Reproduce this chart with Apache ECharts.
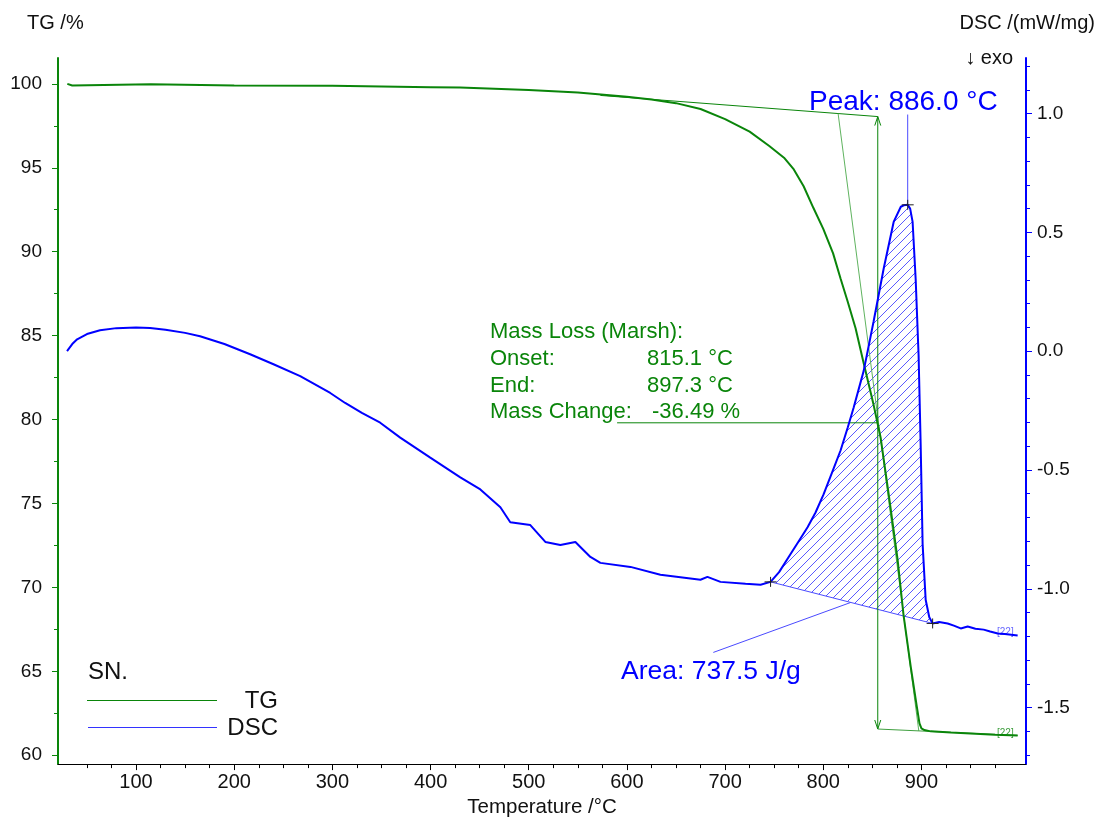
<!DOCTYPE html>
<html>
<head>
<meta charset="utf-8">
<title>TG / DSC</title>
<script src="https://cdn.jsdelivr.net/npm/echarts@6/dist/echarts.min.js"></script>
<style>
  html, body { margin: 0; padding: 0; background: #ffffff; }
  #chart { width: 1102px; height: 823px; }
</style>
</head>
<body>
<div id="chart"></div>
<script>
// ---- Measured curves ----
// TG: temperature (°C) and residual mass (%)
const tgTemp = [30, 32, 35, 37, 115, 117, 200, 300, 400, 430, 500, 550, 600, 625, 650, 675, 700, 725, 745, 760, 770, 780, 790, 800, 810, 817.6, 825, 832.9, 841, 851.2, 858.4, 866.6, 875.7, 881.9, 889, 895, 898, 900, 903, 909.4, 930, 950, 975, 998];
const tgMass = [100.0, 99.9, 99.9, 99.98, 99.98, 99.93, 99.9, 99.88, 99.8, 99.78, 99.64, 99.48, 99.23, 99.07, 98.85, 98.5, 97.9, 97.15, 96.3, 95.6, 94.9, 93.9, 92.6, 91.36, 89.9, 88.4, 87.0, 85.44, 83.4, 80.89, 78.93, 75.56, 71.66, 68.28, 65.3, 63.0, 61.9, 61.6, 61.5, 61.42, 61.35, 61.3, 61.22, 61.18];

// DSC: temperature (°C) and heat flow (mW/mg)
const dscTemp = [29.7, 35, 40, 50, 63.3, 80, 100, 114.3, 130, 150, 165.2, 190, 216.2, 240, 267.2, 297.8, 313, 330, 348.7, 369.1, 399.7, 430.3, 450.7, 471.1, 481.2, 501.6, 516.9, 532.2, 547.5, 562.8, 573, 603.6, 634.1, 674.9, 682, 695.3, 720.8, 736.1, 746.3, 755, 766.7, 775, 784, 792, 800.3, 810, 817.6, 825, 830.9, 841.1, 851.3, 861.5, 871.7, 879, 882, 886.0, 888.5, 891, 894.1, 897.1, 899.2, 901.2, 904.3, 908, 911.4, 918, 926.7, 933, 940, 947.1, 955, 963.4, 970, 977.7, 985, 998];
const dscFlow = [0.0, 0.03, 0.05, 0.072, 0.088, 0.097, 0.1, 0.098, 0.09, 0.077, 0.063, 0.03, -0.013, -0.055, -0.105, -0.176, -0.218, -0.26, -0.301, -0.364, -0.448, -0.531, -0.582, -0.657, -0.72, -0.732, -0.803, -0.816, -0.803, -0.866, -0.891, -0.908, -0.941, -0.962, -0.95, -0.971, -0.979, -0.983, -0.971, -0.93, -0.854, -0.8, -0.741, -0.68, -0.603, -0.5, -0.418, -0.32, -0.238, -0.084, 0.126, 0.347, 0.544, 0.608, 0.614, 0.616, 0.6, 0.544, 0.305, -0.017, -0.393, -0.812, -1.046, -1.12, -1.146, -1.14, -1.146, -1.155, -1.167, -1.159, -1.168, -1.172, -1.18, -1.188, -1.19, -1.197];

// ---- Evaluation results ----
const massOnset = 815.1;        // °C
const massEnd = 897.3;          // °C
const massChange = -36.49;      // %
const stepTemp = 855.5;         // °C, position of the step arrow
const stepTop = 98.05;          // %, upper level of the step
const upperBaseStart = 573;     // °C
const lowerBaseEnd = 998;       // °C
const lowerBaseEndMass = 61.18; // %
const upperBaseSlope = -0.00446; // %/°C
const midLineStart = 590;       // °C

const peakTemp = 886.0;         // °C
const peakFlow = 0.616;         // mW/mg
const areaStart = [746.3, -0.971];
const areaEnd = [911.4, -1.146];
const areaValue = 737.5;        // J/g
const areaLeaderStart = [688, -1.268];
const areaLeaderTo = 828;       // °C, ends on the peak baseline

// ---- Axis ticks ----
const tempMajor = [100, 200, 300, 400, 500, 600, 700, 800, 900];
const tempMinor = [50, 75, 125, 150, 175, 225, 250, 275, 325, 350, 375, 425, 450, 475, 525, 550, 575, 625, 650, 675, 725, 750, 775, 825, 850, 875, 925, 950, 975];
const tgMajor = [60, 65, 70, 75, 80, 85, 90, 95, 100];
const tgMinor = [62.5, 67.5, 72.5, 77.5, 82.5, 87.5, 92.5, 97.5];
const dscMajor = [-1.5, -1.0, -0.5, 0.0, 0.5, 1.0];
const dscMinor = [-1.7, -1.6, -1.4, -1.3, -1.2, -1.1, -0.9, -0.8, -0.7, -0.6, -0.4, -0.3, -0.2, -0.1, 0.1, 0.2, 0.3, 0.4, 0.6, 0.7, 0.8, 0.9, 1.1, 1.2];

// ---- Styling ----
const FONT = "'Liberation Sans', Arial, sans-serif";
const GREEN = '#0a850a';
const BLUE = '#0000ff';
const X_MIN = 20.5, X_MAX = 1006.5;
const TG_MIN = 59.47, TG_MAX = 101.54;
const DSC_MIN = -1.738, DSC_MAX = 1.234;

const zip = (a, b) => a.map((v, i) => [v, b[i]]);

// Derived construction points of the step evaluation
const stepBottom = stepTop + massChange;
const upperBase = t => stepTop + (t - stepTemp) * upperBaseSlope;
const lowerBaseSlope = (lowerBaseEndMass - stepBottom) / (lowerBaseEnd - stepTemp);
const lowerBase = t => stepBottom + (t - stepTemp) * lowerBaseSlope;
const midLevel = stepTop + massChange / 2;
const dscBase = t => areaStart[1] + (t - areaStart[0]) * (areaEnd[1] - areaStart[1]) / (areaEnd[0] - areaStart[0]);

function hatchPattern() {
  const s = 9;
  const c = document.createElement('canvas');
  c.width = s; c.height = s;
  const g = c.getContext('2d');
  g.strokeStyle = 'rgba(60,60,255,0.85)';
  g.lineWidth = 1;
  g.beginPath();
  g.moveTo(-1, 1); g.lineTo(1, -1);
  g.moveTo(-1, s + 1); g.lineTo(s + 1, -1);
  g.moveTo(s - 1, s + 1); g.lineTo(s + 1, s - 1);
  g.stroke();
  return c;
}
const hatch = hatchPattern();

function seg(a, b, color, width) {
  return {
    type: 'line',
    shape: { x1: a[0], y1: a[1], x2: b[0], y2: b[1] },
    style: { stroke: color, lineWidth: width || 1 }
  };
}
function arrowHead(p, dir, color) {
  // dir = -1 points up, +1 points down
  return {
    type: 'polyline',
    shape: { points: [[p[0] - 3, p[1] - dir * 9], [p[0], p[1]], [p[0] + 3, p[1] - dir * 9]] },
    style: { stroke: color, lineWidth: 1, fill: null }
  };
}
function cross(p) {
  return [
    seg([p[0] - 6, p[1]], [p[0] + 6, p[1]], '#222', 1),
    seg([p[0], p[1] - 5], [p[0], p[1] + 5], '#222', 1)
  ];
}

// Step construction lines on the TG curve
function renderTgGuides(params, api) {
  const c = (t, v) => api.coord([t, v]);
  const topPt = c(stepTemp, stepTop);
  const botPt = c(stepTemp, stepBottom);
  return {
    type: 'group',
    children: [
      seg(c(upperBaseStart, upperBase(upperBaseStart)), topPt, GREEN),
      seg(c(massOnset, upperBase(massOnset)), c(massEnd, lowerBase(massEnd)), '#5fb35f'),
      seg(topPt, botPt, GREEN),
      arrowHead(topPt, -1, GREEN),
      arrowHead(botPt, 1, GREEN),
      seg(botPt, c(lowerBaseEnd, lowerBaseEndMass), '#3f9f3f'),
      seg(c(midLineStart, midLevel), c(stepTemp, midLevel), GREEN)
    ]
  };
}

// Hatched peak area, its baseline and leader lines on the DSC curve
function renderDscGuides(params, api) {
  const c = (t, v) => api.coord([t, v]);
  const pts = [];
  dscTemp.forEach((t, i) => {
    if (t >= areaStart[0] && t <= areaEnd[0]) pts.push(c(t, dscFlow[i]));
  });
  pts.push(c(areaEnd[0], areaEnd[1]));
  pts.unshift(c(areaStart[0], areaStart[1]));
  return {
    type: 'group',
    children: [
      { type: 'polygon', shape: { points: pts }, style: { fill: { image: hatch, repeat: 'repeat' }, stroke: null } },
      seg(c(areaStart[0], areaStart[1]), c(areaEnd[0], areaEnd[1]), '#4a4aff'),
      seg(c(areaLeaderStart[0], areaLeaderStart[1]), c(areaLeaderTo, dscBase(areaLeaderTo)), '#4a4aff'),
      seg(c(peakTemp, peakFlow), c(peakTemp, 0.996), '#4a4aff')
    ]
  };
}

function renderMarkers(params, api) {
  const c = (t, v) => api.coord([t, v]);
  return {
    type: 'group',
    children: [].concat(
      cross(c(peakTemp, peakFlow)),
      cross(c(areaStart[0], areaStart[1])),
      cross(c(areaEnd[0], areaEnd[1]))
    )
  };
}

function txt(x, y, text, opt) {
  opt = opt || {};
  return {
    type: 'text', x: x, y: y, silent: true,
    style: {
      text: text,
      fill: opt.color || '#111',
      font: (opt.size || 20) + 'px ' + FONT,
      align: opt.align || 'left',
      verticalAlign: 'middle'
    }
  };
}

const valueAxisBase = {
  type: 'value',
  splitLine: { show: false },
  axisLabel: { show: false },
  axisTick: { show: false },
  axisLine: { show: false, onZero: false }
};

const option = {
  backgroundColor: '#ffffff',
  animation: false,
  grid: { left: 58, right: 76, top: 58, bottom: 54, containLabel: false },
  xAxis: [
    {
      type: 'value', min: X_MIN, max: X_MAX, position: 'bottom',
      axisLine: { show: true, onZero: false, lineStyle: { color: '#000', width: 1 } },
      axisTick: { show: true, customValues: tempMajor, length: 6, lineStyle: { color: '#000' } },
      axisLabel: { customValues: tempMajor, color: '#111', fontSize: 20, fontFamily: FONT, margin: 8 },
      splitLine: { show: false },
      name: 'Temperature /°C', nameLocation: 'middle', nameGap: 32,
      nameTextStyle: { color: '#111', fontSize: 20.5, fontFamily: FONT }
    },
    Object.assign({}, valueAxisBase, {
      min: X_MIN, max: X_MAX, position: 'bottom',
      axisTick: { show: true, customValues: tempMinor, length: 4, lineStyle: { color: '#000' } }
    })
  ],
  yAxis: [
    {
      type: 'value', min: TG_MIN, max: TG_MAX, position: 'left',
      axisLine: { show: true, onZero: false, lineStyle: { color: GREEN, width: 2 } },
      axisTick: { show: true, customValues: tgMajor, length: 6, lineStyle: { color: GREEN } },
      axisLabel: { customValues: tgMajor, color: '#111', fontSize: 19, fontFamily: FONT, margin: 16 },
      splitLine: { show: false }
    },
    {
      type: 'value', min: DSC_MIN, max: DSC_MAX, position: 'right',
      axisLine: { show: true, onZero: false, lineStyle: { color: BLUE, width: 2 } },
      axisTick: { show: true, customValues: dscMajor, length: 6, lineStyle: { color: BLUE } },
      axisLabel: { customValues: dscMajor, color: '#111', fontSize: 19, fontFamily: FONT, margin: 11,
        formatter: v => v.toFixed(1) },
      splitLine: { show: false }
    },
    Object.assign({}, valueAxisBase, {
      min: TG_MIN, max: TG_MAX, position: 'left',
      axisTick: { show: true, customValues: tgMinor, length: 4, lineStyle: { color: GREEN } }
    }),
    Object.assign({}, valueAxisBase, {
      min: DSC_MIN, max: DSC_MAX, position: 'right',
      axisTick: { show: true, customValues: dscMinor, length: 4, lineStyle: { color: BLUE } }
    })
  ],
  series: [
    {
      name: 'DSC evaluation', type: 'custom', xAxisIndex: 0, yAxisIndex: 1,
      renderItem: renderDscGuides, data: [0], silent: true, z: 1
    },
    {
      name: 'TG evaluation', type: 'custom', xAxisIndex: 0, yAxisIndex: 0,
      renderItem: renderTgGuides, data: [0], silent: true, z: 2
    },
    {
      name: 'TG', type: 'line', xAxisIndex: 0, yAxisIndex: 0,
      data: zip(tgTemp, tgMass), showSymbol: false, symbol: 'none',
      lineStyle: { color: GREEN, width: 2 }, z: 3
    },
    {
      name: 'DSC', type: 'line', xAxisIndex: 0, yAxisIndex: 1,
      data: zip(dscTemp, dscFlow), showSymbol: false, symbol: 'none',
      lineStyle: { color: BLUE, width: 2 }, z: 3
    },
    {
      name: 'markers', type: 'custom', xAxisIndex: 0, yAxisIndex: 1,
      renderItem: renderMarkers, data: [0], silent: true, z: 4
    }
  ],
  graphic: [
    txt(27, 23, 'TG /%'),
    txt(1095, 23, 'DSC /(mW/mg)', { align: 'right' }),
    txt(1013, 58, '↓ exo', { align: 'right' }),
    txt(809, 102, 'Peak: ' + peakTemp.toFixed(1) + ' °C', { color: BLUE, size: 28 }),
    txt(621, 672, 'Area: ' + areaValue.toFixed(1) + ' J/g', { color: BLUE, size: 26.5 }),
    txt(490, 332, 'Mass Loss (Marsh):', { color: GREEN, size: 22 }),
    txt(490, 359, 'Onset:', { color: GREEN, size: 22 }),
    txt(647, 359, massOnset.toFixed(1) + ' °C', { color: GREEN, size: 22 }),
    txt(490, 386, 'End:', { color: GREEN, size: 22 }),
    txt(647, 386, massEnd.toFixed(1) + ' °C', { color: GREEN, size: 22 }),
    txt(490, 412, 'Mass Change:', { color: GREEN, size: 22 }),
    txt(652, 412, massChange.toFixed(2) + ' %', { color: GREEN, size: 22 }),
    txt(997, 632, '[22]', { color: '#6a6aff', size: 10 }),
    txt(997, 733, '[22]', { color: '#3f9f3f', size: 10 }),
    // legend
    txt(88, 672, 'SN.', { size: 24 }),
    { type: 'line', shape: { x1: 87, y1: 700.5, x2: 217, y2: 700.5 }, style: { stroke: GREEN, lineWidth: 1 } },
    txt(278, 701, 'TG', { size: 24, align: 'right' }),
    { type: 'line', shape: { x1: 88, y1: 727.5, x2: 217, y2: 727.5 }, style: { stroke: '#3333ff', lineWidth: 1 } },
    txt(278, 728, 'DSC', { size: 24, align: 'right' })
  ]
};

const chart = echarts.init(document.getElementById('chart'));
chart.setOption(option);
</script>
</body>
</html>
